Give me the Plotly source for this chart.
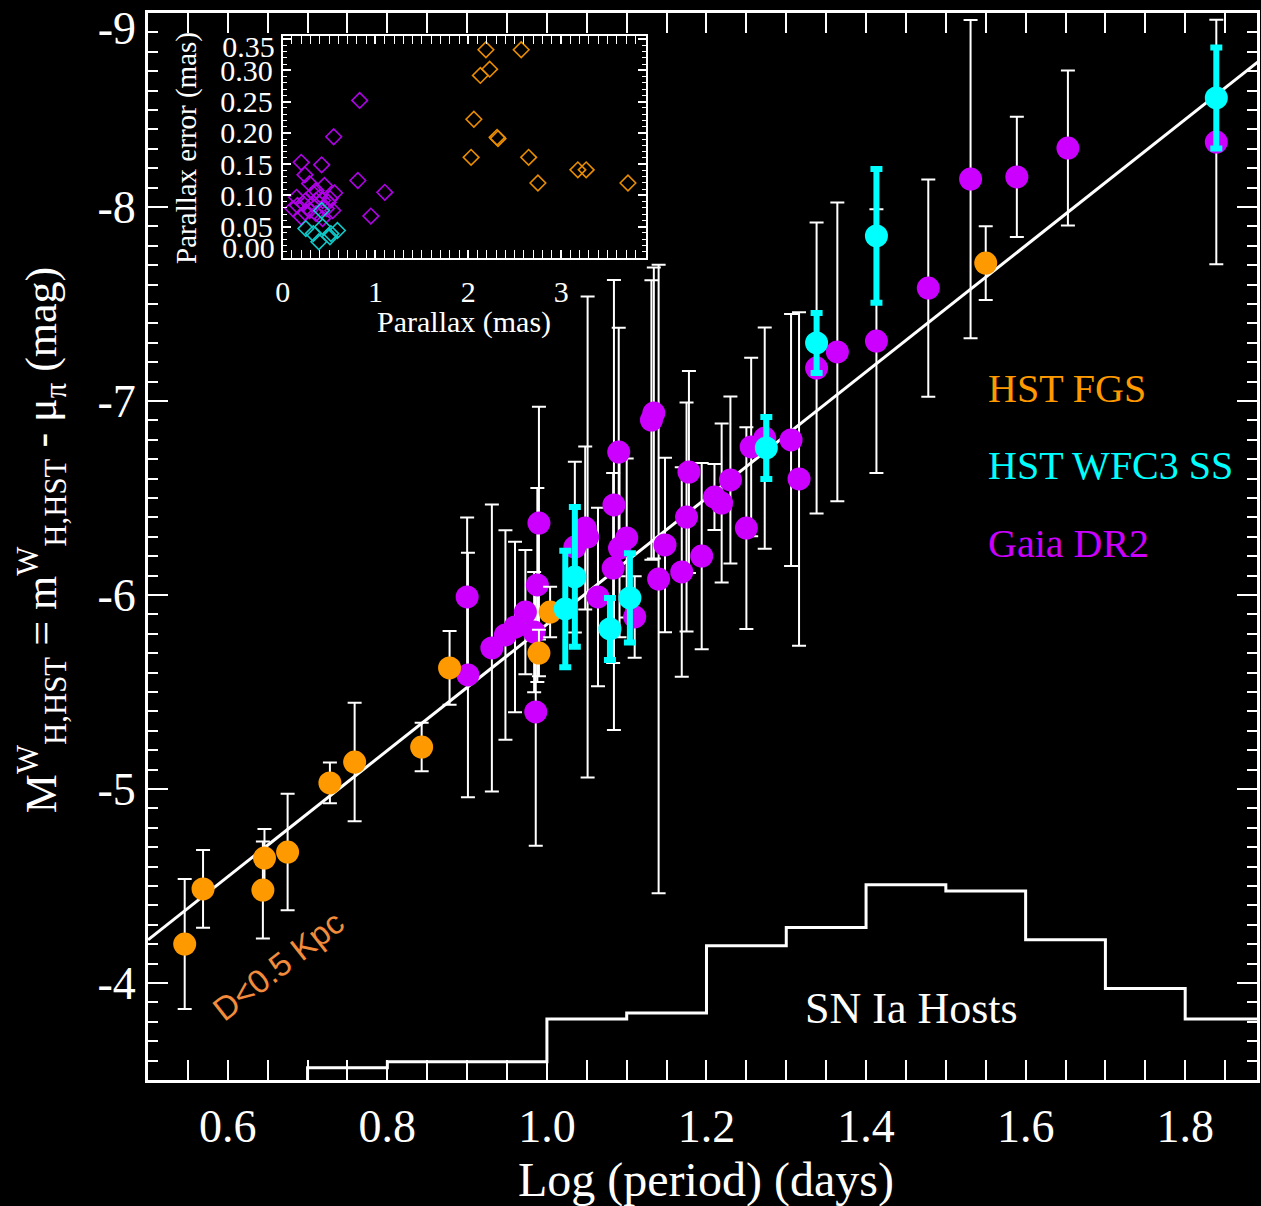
import numpy as np
import plotly.graph_objects as go

# ---------------- data ----------------
# Gaia DR2 Cepheids: log period, absolute magnitude, error
gaia_logP = [0.901, 0.900, 0.931, 0.948, 0.960, 0.973, 0.990, 0.988, 0.986, 0.984,
             1.048, 1.051, 1.035, 1.064, 1.083, 1.084, 1.090, 1.100, 1.091, 1.110,
             1.134, 1.131, 1.140, 1.148, 1.178, 1.175, 1.169, 1.194, 1.210, 1.219,
             1.230, 1.250, 1.256, 1.273, 1.306, 1.316, 1.338, 1.364, 1.413, 1.478,
             1.531, 1.589, 1.653, 1.839]
gaia_M = [-5.588, -5.990, -5.727, -5.794, -5.835, -5.912, -6.371, -6.052, -5.397, -5.809,
          -6.345, -6.299, -6.247, -5.990, -6.139, -6.464, -6.737, -6.294, -6.242, -5.887,
          -6.938, -6.902, -6.082, -6.258, -6.634, -6.402, -6.119, -6.201, -6.505, -6.474,
          -6.593, -6.345, -6.763, -6.809, -6.799, -6.598, -7.170, -7.253, -7.309, -7.582,
          -8.144, -8.155, -8.304, -8.335]
gaia_err = [0.63, 0.41, 0.74, 0.54, 0.44, 0.32, 0.60, 0.50, 0.69, 0.31,
            0.42, 1.24, 0.44, 0.46, 0.49, 1.16, 0.64, 0.41, 0.46, 0.21,
            0.75, 0.72, 1.62, 0.45, 0.52, 0.59, 0.54, 0.48, 0.17, 0.41,
            0.43, 0.52, 0.46, 0.57, 0.65, 0.86, 0.75, 0.77, 0.68, 0.56,
            0.82, 0.31, 0.40, 0.63]

# HST FGS Cepheids
fgs_logP = [0.546, 0.569, 0.644, 0.646, 0.675, 0.728, 0.759, 0.843, 0.878, 0.990, 1.004, 1.550]
fgs_M = [-4.201, -4.485, -4.479, -4.644, -4.675, -5.031, -5.139, -5.216, -5.624, -5.701, -5.912, -7.711]
fgs_err = [0.335, 0.20, 0.25, 0.15, 0.30, 0.105, 0.305, 0.125, 0.19, 0.12, 0.13, 0.19]

# HST WFC3 spatial scan Cepheids
wfc3_logP = [1.023, 1.035, 1.079, 1.104, 1.275, 1.338, 1.413, 1.839]
wfc3_M = [-5.928, -6.093, -5.825, -5.985, -6.758, -7.299, -7.851, -8.562]
wfc3_err = [0.30, 0.36, 0.16, 0.23, 0.16, 0.155, 0.345, 0.26]

# P-L relation fit (pivot at log P = 1)
fit_zero = -5.849
fit_slope = -3.253
fit_logP = [0.5, 1.9]

# SN Ia host Cepheid period histogram
hist_edges = [0.7, 0.8, 0.9, 1.0, 1.1, 1.2, 1.3, 1.4, 1.5, 1.6, 1.7, 1.8, 1.9]
hist_counts = [2, 3, 3, 10, 11, 22, 25, 32, 31, 23, 15, 10]

# inset: parallax vs parallax error
fgs_plx = [2.19, 2.57, 2.23, 2.13, 2.06, 2.31, 2.32, 2.03, 2.65, 2.75, 3.18, 3.27, 3.72]
fgs_plx_err = [0.333, 0.333, 0.302, 0.292, 0.222, 0.193, 0.191, 0.161, 0.161, 0.120, 0.141, 0.141, 0.120]
wfc3_plx = [0.42, 0.25, 0.33, 0.39, 0.43, 0.52, 0.59, 0.51]
wfc3_plx_err = [0.076, 0.047, 0.039, 0.026, 0.050, 0.039, 0.044, 0.034]
gaia_plx = [0.83, 0.55, 0.20, 0.42, 0.24, 0.81, 1.10, 0.95, 0.29, 0.45,
            0.56, 0.15, 0.36, 0.11, 0.54, 0.20, 0.25, 0.33, 0.40, 0.43,
            0.49, 0.29, 0.36, 0.43, 0.51, 0.22, 0.16, 0.36, 0.33, 0.47, 0.24]
gaia_plx_err = [0.252, 0.194, 0.153, 0.149, 0.133, 0.124, 0.105, 0.067, 0.119, 0.116,
                0.104, 0.097, 0.108, 0.079, 0.076, 0.066, 0.092, 0.087, 0.097, 0.092,
                0.089, 0.076, 0.071, 0.063, 0.095, 0.087, 0.084, 0.092, 0.103, 0.079, 0.073]

x_ticks = [0.6, 0.8, 1.0, 1.2, 1.4, 1.6, 1.8]
y_ticks = [-9, -8, -7, -6, -5, -4]
inset_x_ticks = [0, 1, 2, 3]
inset_y_ticks = [0.00, 0.05, 0.10, 0.15, 0.20, 0.25, 0.30, 0.35]

# ---------------- styling ----------------
ORANGE = "#FF9900"
CYAN = "#00FFFF"
PURPLE = "#CC00FF"
SERIF = "Liberation Serif, Times New Roman, serif"
SANS = "Liberation Sans, Arial, sans-serif"

Y_RANGE = [-3.5, -9.0]
INSET_Y_RANGE = [0.0, 0.355]
# edge tick labels are nudged inside the frame (as in the original); offsets in axis units
Y_EDGE_NUDGE = 0.077
INSET_TOP_NUDGE = 0.0124
INSET_BOTTOM_NUDGE = 0.016

fig = go.Figure()

# histogram (steps)
hx = [hist_edges[0]] + hist_edges
hy = [0] + hist_counts + [hist_counts[-1]]
fig.add_trace(go.Scatter(x=hx, y=hy, mode="lines", line=dict(color="white", width=3, shape="hv"),
                         xaxis="x", yaxis="y3", showlegend=False, hoverinfo="skip"))

# fit line
fx = np.array(fit_logP)
fy = fit_zero + fit_slope * (fx - 1.0)
fig.add_trace(go.Scatter(x=fx, y=fy, mode="lines", line=dict(color="white", width=3),
                         showlegend=False))

# Gaia
fig.add_trace(go.Scatter(x=gaia_logP, y=gaia_M, mode="markers",
                         marker=dict(color=PURPLE, size=23, line=dict(width=0)),
                         error_y=dict(type="data", array=gaia_err, color="white", thickness=2, width=7),
                         showlegend=False))
# FGS
fig.add_trace(go.Scatter(x=fgs_logP, y=fgs_M, mode="markers",
                         marker=dict(color=ORANGE, size=23, line=dict(width=0)),
                         error_y=dict(type="data", array=fgs_err, color="white", thickness=2, width=7),
                         showlegend=False))
# WFC3
fig.add_trace(go.Scatter(x=wfc3_logP, y=wfc3_M, mode="markers",
                         marker=dict(color=CYAN, size=23, line=dict(width=0)),
                         error_y=dict(type="data", array=wfc3_err, color=CYAN, thickness=6, width=6),
                         showlegend=False))

# inset
for px_, pe_, col in [(gaia_plx, gaia_plx_err, "#B000E8"),
                      (wfc3_plx, wfc3_plx_err, "#10C8C8"),
                      (fgs_plx, fgs_plx_err, "#E88C00")]:
    fig.add_trace(go.Scatter(x=px_, y=pe_, mode="markers", xaxis="x2", yaxis="y2",
                             marker=dict(symbol="diamond-open", size=12, color=col,
                                         line=dict(width=1.6, color=col)),
                             showlegend=False))

# invisible anchors so the label-only overlay axes get rendered
for xa, ya, xv, yv in [("x", "y4", fit_logP[0], y_ticks[0]),
                       ("x2", "y5", inset_x_ticks[0], inset_y_ticks[-1]),
                       ("x2", "y6", inset_x_ticks[0], inset_y_ticks[0])]:
    fig.add_trace(go.Scatter(x=[xv], y=[yv], xaxis=xa, yaxis=ya, mode="markers",
                             marker=dict(size=1, opacity=0), showlegend=False, hoverinfo="skip"))

axis_common = dict(showline=True, linecolor="white", linewidth=3, mirror="allticks",
                   ticks="inside", tickcolor="white", tickwidth=2, showgrid=False,
                   zeroline=False, tickfont=dict(family=SERIF, size=46, color="white"))
inset_font = dict(family=SERIF, size=30, color="white")
inset_common = dict(showline=True, linecolor="white", linewidth=2, mirror="allticks",
                    ticks="inside", tickcolor="white", tickwidth=2, ticklen=8,
                    showgrid=False, zeroline=False, tickfont=inset_font)
# label-only overlay axes
label_only = dict(showline=False, ticks="", showgrid=False, zeroline=False, tickmode="array",
                  side="left", fixedrange=True)

fig.update_layout(
    width=1261, height=1206,
    margin=dict(l=148, r=1, t=13, b=126),
    paper_bgcolor="black", plot_bgcolor="black",
    xaxis=dict(range=[0.5, 1.89], tickmode="array", tickvals=x_ticks,
               ticktext=[f"{v:.1f}" for v in x_ticks], ticklen=20, ticklabelstandoff=4,
               minor=dict(ticks="inside", ticklen=10, tickcolor="white", tickwidth=2,
                          tick0=0.5, dtick=0.05),
               **axis_common),
    yaxis=dict(range=Y_RANGE, tickmode="array", tickvals=y_ticks,
               ticktext=["" if v == y_ticks[0] else f"-{abs(v)}" for v in y_ticks],
               ticklen=20, ticklabelstandoff=0,
               minor=dict(ticks="inside", ticklen=10, tickcolor="white", tickwidth=2,
                          tick0=-9, dtick=0.1),
               **axis_common),
    yaxis3=dict(range=[0, 174.9], overlaying="y", anchor="x", visible=False),
    yaxis4=dict(range=[Y_RANGE[0] - Y_EDGE_NUDGE, Y_RANGE[1] - Y_EDGE_NUDGE],
                overlaying="y", anchor="x",
                tickvals=[y_ticks[0]], ticktext=[f"-{abs(y_ticks[0])}"], ticklabelstandoff=11,
                tickfont=dict(family=SERIF, size=46, color="white"), **label_only),
    xaxis2=dict(domain=[0.1214, 0.4487], anchor="y2", range=[0, 3.91],
                tickmode="array", tickvals=inset_x_ticks, ticktext=[str(v) for v in inset_x_ticks],
                minor=dict(ticks="inside", ticklen=4, tickcolor="white", tickwidth=1, tick0=0, dtick=0.1),
                ticklabelstandoff=6, **inset_common),
    yaxis2=dict(domain=[0.7704, 0.9784], anchor="x2", range=INSET_Y_RANGE,
                tickmode="array", tickvals=inset_y_ticks,
                ticktext=["" if v in (inset_y_ticks[0], inset_y_ticks[-1]) else f"{v:.2f}"
                          for v in inset_y_ticks],
                minor=dict(ticks="inside", ticklen=4, tickcolor="white", tickwidth=1, tick0=0, dtick=0.01),
                ticklabelstandoff=2, **inset_common),
    yaxis5=dict(domain=[0.7704, 0.9784], overlaying="y2", anchor="x2",
                range=[INSET_Y_RANGE[0] + INSET_TOP_NUDGE, INSET_Y_RANGE[1] + INSET_TOP_NUDGE],
                tickvals=[inset_y_ticks[-1]], ticktext=[f"{inset_y_ticks[-1]:.2f}"],
                ticklabelstandoff=7, tickfont=inset_font, **label_only),
    yaxis6=dict(domain=[0.7704, 0.9784], overlaying="y2", anchor="x2",
                range=[INSET_Y_RANGE[0] - INSET_BOTTOM_NUDGE, INSET_Y_RANGE[1] - INSET_BOTTOM_NUDGE],
                tickvals=[inset_y_ticks[0]], ticktext=[f"{inset_y_ticks[0]:.2f}"],
                ticklabelstandoff=7, tickfont=inset_font, **label_only),
)

annos = [
    dict(text="Log (period) (days)", xref="paper", yref="paper", x=0.503, y=-0.094,
         font=dict(family=SERIF, size=48, color="white")),
    dict(text="M<sup>W</sup><sub>H,HST</sub> = m<sup>W</sup><sub>H,HST</sub> - μ<sub>π</sub> (mag)",
         xref="paper", yref="paper", x=-0.0955, y=0.506, textangle=-90,
         font=dict(family=SERIF, size=44, color="white")),
    dict(text="HST FGS", xref="x", yref="y", x=1.55, y=-7.067, xanchor="left",
         font=dict(family=SERIF, size=40, color=ORANGE)),
    dict(text="HST WFC3 SS", xref="x", yref="y", x=1.55, y=-6.670, xanchor="left",
         font=dict(family=SERIF, size=40, color=CYAN)),
    dict(text="Gaia DR2", xref="x", yref="y", x=1.55, y=-6.268, xanchor="left",
         font=dict(family=SERIF, size=40, color=PURPLE)),
    dict(text="SN Ia Hosts", xref="x", yref="y", x=1.4575, y=-3.871,
         font=dict(family=SERIF, size=44, color="white")),
    dict(text="D&lt;0.5 Kpc", xref="x", yref="y", x=0.664, y=-4.088, textangle=-38,
         font=dict(family=SANS, size=33, color="#F28C3C")),
    dict(text="Parallax (mas)", xref="paper", yref="paper", x=0.2851, y=0.7104,
         font=dict(family=SERIF, size=30, color="white")),
    dict(text="Parallax error (mas)", xref="paper", yref="paper", x=0.0351, y=0.8735,
         textangle=-90, font=dict(family=SERIF, size=29, color="white")),
]
for a in annos:
    a.setdefault("xanchor", "center")
    a.update(yanchor="middle", showarrow=False)
    fig.add_annotation(**a)

fig.write_html("out.html")
